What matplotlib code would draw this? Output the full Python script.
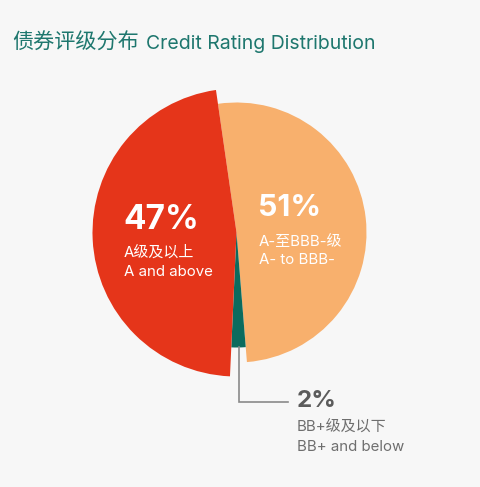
import matplotlib
matplotlib.use("Agg")
import matplotlib.pyplot as plt

# ---- data ----
categories_cn = ["A-至BBB-级", "BB+级及以下", "A级及以上"]
categories_en = ["A- to BBB-", "BB+ and below", "A and above"]
values = [51, 2, 47]
pct_labels = ["51%", "2%", "47%"]
colors = ["#F8B06D", "#0C6B5E", "#E5351A"]
title_cn = "债券评级分布"
title_en = "Credit Rating Distribution"

W, H = 481, 487
fig = plt.figure(figsize=(W / 100, H / 100), dpi=100, facecolor="#F7F7F7")
ax = fig.add_axes([0, 0, 1, 1])
ax.set_facecolor("#F7F7F7")

FAM = ["Inter", "Noto Sans CJK SC", "DejaVu Sans"]

def py(y):
    return H - y

cx, cy = 236.5, py(232.5)
wedges, _ = ax.pie(values, colors=colors, startangle=98.2, counterclock=False,
                   center=(cx, cy), radius=130, frame=True,
                   wedgeprops=dict(linewidth=0))
radii = [130, 115, 144]
for w, r in zip(wedges, radii):
    w.set_radius(r)
ax.set_xlim(0, W)
ax.set_ylim(0, H)
ax.set_aspect("equal")
ax.axis("off")

# title
ax.text(12, py(43), title_cn, fontsize=15.2, color="#1E776E", family=FAM,
        va="center", ha="left")
ax.text(146, py(44), title_en, fontsize=14.0, color="#1E776E", family=FAM,
        va="center", ha="left")

# red slice labels
ax.text(123, py(220), pct_labels[2], fontsize=24, fontweight="bold", color="white",
        family=FAM, va="center", ha="left")
ax.text(124, py(253), categories_cn[2], fontsize=10.8, color="white",
        family=FAM, va="center", ha="left")
ax.text(124, py(272), categories_en[2], fontsize=10.8, color="white",
        family=FAM, va="center", ha="left")

# orange slice labels
ax.text(258, py(208), pct_labels[0], fontsize=21.8, fontweight="bold", color="white",
        family=FAM, va="center", ha="left")
ax.text(259, py(242), categories_cn[0], fontsize=10.8, color="white",
        family=FAM, va="center", ha="left")
ax.text(259, py(260), categories_en[0], fontsize=10.8, color="white",
        family=FAM, va="center", ha="left")

# teal slice leader + labels
ax.plot([239, 239, 288], [py(347), py(402), py(402)], color="#8A8A8A", lw=1.2,
        solid_joinstyle="miter")
ax.text(297, py(401), pct_labels[1], fontsize=17.4, fontweight="bold", color="#5B5B5B",
        family=FAM, va="center", ha="left")
ax.text(297, py(428), categories_cn[1], fontsize=10.8, color="#6E6E6E",
        family=FAM, va="center", ha="left")
ax.text(297, py(447), categories_en[1], fontsize=10.8, color="#6E6E6E",
        family=FAM, va="center", ha="left")

fig.savefig("out.png", dpi=100, facecolor=fig.get_facecolor())
